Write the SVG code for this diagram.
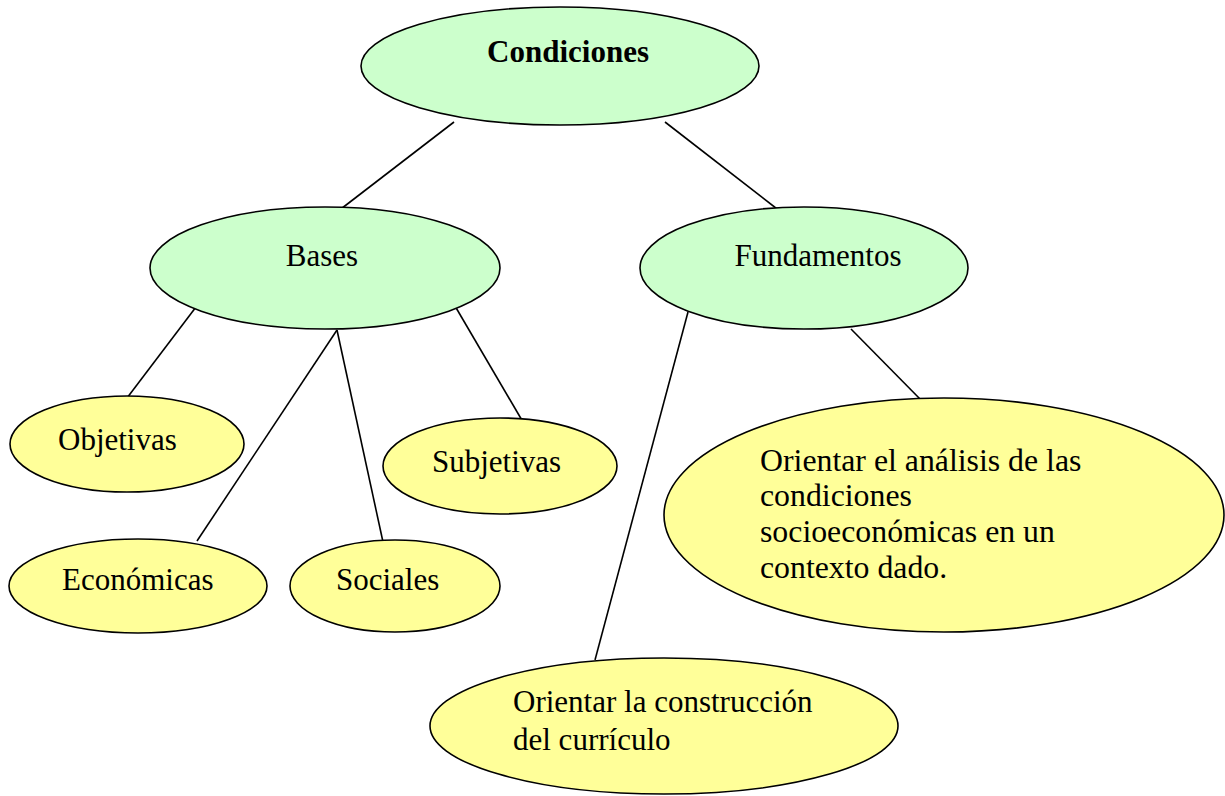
<svg xmlns="http://www.w3.org/2000/svg" width="1225" height="796" viewBox="0 0 1225 796">
<style>
.g{fill:#CCFFCC;stroke:#000;stroke-width:1.6}
.y{fill:#FFFF99;stroke:#000;stroke-width:1.6}
.t{font-family:"Liberation Serif","Times New Roman",serif;font-size:31px;fill:#000}
.b{font-weight:bold}
.m{text-anchor:middle}
#connectors line{stroke:#000;stroke-width:1.6}
</style>
<rect width="1225" height="796" fill="#fff"/>
<g id="connectors">
<line x1="454" y1="122" x2="337" y2="212"/>
<line x1="665" y1="122" x2="781" y2="212"/>
<line x1="196" y1="307" x2="127" y2="398"/>
<line x1="337" y1="330" x2="197" y2="541"/>
<line x1="337" y1="330" x2="383" y2="542"/>
<line x1="455" y1="306" x2="523" y2="422"/>
<line x1="688" y1="312" x2="595" y2="660"/>
<line x1="851" y1="329" x2="921" y2="400"/>
</g>
<g id="condiciones"><ellipse class="g" cx="560" cy="66" rx="199" ry="59"/><text class="t b m" x="568" y="62">Condiciones</text></g>
<g id="bases"><ellipse class="g" cx="325" cy="268" rx="175" ry="61"/><text class="t m" x="322" y="266">Bases</text></g>
<g id="fundamentos"><ellipse class="g" cx="804" cy="268" rx="164" ry="61"/><text class="t m" x="818" y="266">Fundamentos</text></g>
<g id="objetivas"><ellipse class="y" cx="127" cy="444" rx="117" ry="48"/><text class="t" x="58" y="450">Objetivas</text></g>
<g id="subjetivas"><ellipse class="y" cx="500" cy="466" rx="117" ry="48"/><text class="t" x="432" y="472">Subjetivas</text></g>
<g id="economicas"><ellipse class="y" cx="138" cy="586" rx="129" ry="47"/><text class="t" x="62" y="590">Económicas</text></g>
<g id="sociales"><ellipse class="y" cx="395" cy="586" rx="105" ry="46"/><text class="t" x="336" y="590">Sociales</text></g>
<g id="analisis"><ellipse class="y" cx="944" cy="515" rx="280" ry="117"/><text class="t" x="760" style="font-size:31.8px"><tspan x="760" y="471">Orientar el análisis de las</tspan><tspan x="760" y="506">condiciones</tspan><tspan x="760" y="542">socioeconómicas en un</tspan><tspan x="760" y="578">contexto dado.</tspan></text></g>
<g id="curriculo"><ellipse class="y" cx="664" cy="726" rx="234" ry="68"/><text class="t"><tspan x="513" y="712">Orientar la construcción</tspan><tspan x="513" y="750">del currículo</tspan></text></g>
</svg>
